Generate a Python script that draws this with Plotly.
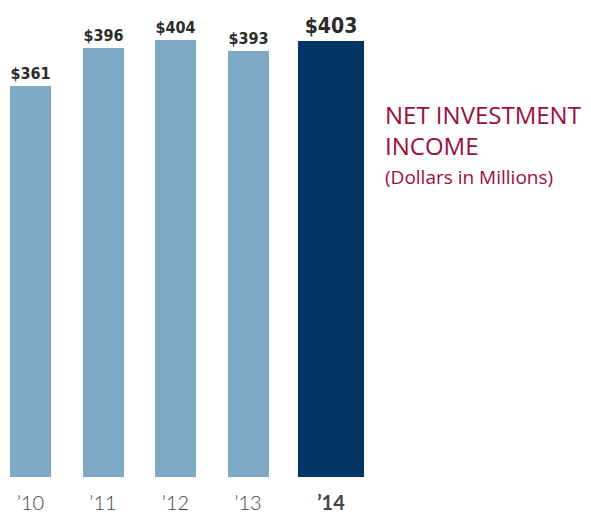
import plotly.graph_objects as go

years = ["’10", "’11", "’12", "’13", "’14"]
values = [361, 396, 404, 393, 403]
labels = ["$361", "$396", "$404", "$393", "$403"]

light = "#7FAAC5"
dark = "#003565"
crimson = "#9B0E3F"

OFF = 8  # default body margin of the html page
W, H = 591 - OFF, 514 - OFF
plot_w = 370 - OFF
bottom_px = 484 - OFF
px_per_cat = 72.5
first_center = 30.5 - OFF
px_per_unit = 444 / 404.0

widths = [41 / px_per_cat] * 4 + [66 / px_per_cat]
offsets = [-w / 2 for w in widths[:4]] + [((298 - OFF) - (first_center + 4 * px_per_cat)) / px_per_cat]

colors = [light] * 4 + [dark]
text_sizes = [16] * 4 + [21]

fig = go.Figure()
fig.add_trace(go.Bar(
    x=list(range(len(years))),
    y=values,
    width=widths,
    offset=offsets,
    marker=dict(color=colors, line=dict(width=0)),
    text=labels,
    textposition="outside",
    cliponaxis=False,
    textfont=dict(family="DejaVu Sans Condensed, Liberation Sans Narrow, sans-serif", size=text_sizes, color="#2b2b2b", weight="bold"),
    hoverinfo="skip",
))

ticktext = years[:4] + ["<b>" + years[4] + "</b>"]
tickvals = list(range(4)) + [((298 + 33 - OFF) - first_center) / px_per_cat]

fig.update_layout(
    width=W, height=H,
    margin=dict(l=0, r=W - plot_w, t=0, b=H - bottom_px),
    paper_bgcolor="white", plot_bgcolor="white",
    showlegend=False,
    xaxis=dict(
        range=[-first_center / px_per_cat, (plot_w - first_center) / px_per_cat],
        tickvals=tickvals, ticktext=ticktext,
        showgrid=False, zeroline=False, showline=False, ticks="",
        ticklabelstandoff=12,
        tickfont=dict(family="Lato, Open Sans, sans-serif", size=20, color="#444444", weight=300),
    ),
    yaxis=dict(
        range=[0, bottom_px / px_per_unit],
        visible=False, showgrid=False, zeroline=False,
    ),
    bargap=0,
)

def ypaper(px):
    return (bottom_px - (px - OFF)) / bottom_px

tx = (383 - OFF) / plot_w
title_font = dict(family="Open Sans, Noto Sans, sans-serif", size=24, color=crimson, weight=500)
fig.add_annotation(text="NET INVESTMENT", xref="paper", yref="paper", x=tx, y=ypaper(116),
                   xanchor="left", yanchor="middle", showarrow=False, font=title_font)
fig.add_annotation(text="INCOME", xref="paper", yref="paper", x=tx, y=ypaper(148),
                   xanchor="left", yanchor="middle", showarrow=False, font=title_font)
fig.add_annotation(text="(Dollars in Millions)", xref="paper", yref="paper", x=tx, y=ypaper(180),
                   xanchor="left", yanchor="middle", showarrow=False,
                   font=dict(family="Open Sans, Noto Sans, sans-serif", size=19, color=crimson))

fig.write_html("out.html")
